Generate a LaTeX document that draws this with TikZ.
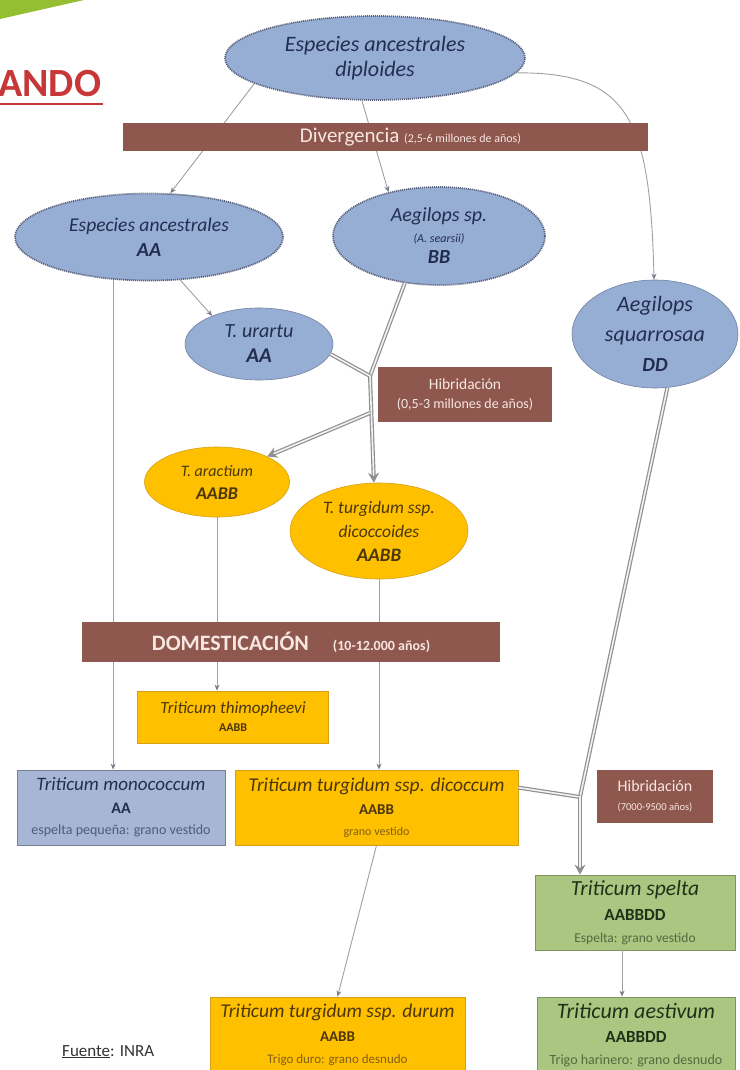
\documentclass[tikz,border=0pt]{standalone}
\usepackage{fontspec}
\setmainfont{Carlito}
\usetikzlibrary{shapes.geometric,arrows.meta}
\definecolor{ellblue}{RGB}{150,173,212}
\definecolor{navy}{RGB}{35,45,80}
\definecolor{yel}{RGB}{255,192,0}
\definecolor{yelborder}{RGB}{215,160,20}
\definecolor{brownbar}{RGB}{142,88,78}
\definecolor{bartext}{RGB}{248,230,224}
\definecolor{grbox}{RGB}{170,198,128}
\definecolor{monobox}{RGB}{168,182,214}
\definecolor{linegray}{RGB}{160,160,160}
\definecolor{arrgray}{RGB}{120,125,140}
\definecolor{redtxt}{RGB}{200,55,55}
\definecolor{leaf}{RGB}{150,190,50}
\definecolor{yeltext}{RGB}{75,55,10}
\definecolor{yelsmall}{RGB}{130,95,20}
\definecolor{grtext}{RGB}{30,50,25}
\definecolor{grsmall}{RGB}{85,105,65}
\definecolor{monosmall}{RGB}{80,90,125}
\newcommand\fs[2]{\fontsize{#1}{#2}\selectfont}
\begin{document}
\begin{tikzpicture}[x=1pt,y=-1pt,
  ell/.style={ellipse, inner sep=0pt, align=center, fill=ellblue, text=navy},
  dotb/.style={draw=navy!75, line width=1.7pt, dash pattern=on 1.1pt off 0.9pt},
  solb/.style={draw=ellblue!75!black, line width=0.6pt},
  yell/.style={ellipse, inner sep=0pt, align=center, fill=yel, draw=yelborder, line width=0.6pt, text=yeltext},
  barbox/.style={rectangle, fill=brownbar, text=bartext, inner sep=0pt, align=center},
  ybox/.style={rectangle, fill=yel, draw=yelborder, line width=0.8pt, inner sep=0pt, align=center, text=yeltext},
  gbox/.style={rectangle, fill=grbox, draw=grbox!75!black, line width=0.8pt, inner sep=0pt, align=center, text=grtext},
  mbox/.style={rectangle, fill=monobox, draw=monobox!70!black, line width=0.8pt, inner sep=0pt, align=center, text=navy},
  arr/.style={draw=linegray, line width=0.9pt, -{Stealth[length=6pt,width=5pt,color=arrgray]}},
  dbl/.style={draw=linegray!90!black, double=white!90!gray, double distance=1.6pt, line width=1.2pt},
  dblarr/.style={dbl, -{Stealth[length=10pt,width=11pt]}}
]
\useasboundingbox (0,0) rectangle (739,1070);
\fill[white] (0,0) rectangle (739,1070);
\fill[leaf] (0,0) -- (84,0) -- (0,19) -- cycle;

% title fragment
\node[anchor=base west, text=redtxt, font=\fs{40}{40}\bfseries, inner sep=0pt] (ando) at (-2,97) {ANDO};
\draw[redtxt, line width=2.5pt] (0,104) -- (103,104);

% ellipses
\node[ell, dotb, minimum width=300pt, minimum height=84pt, font=\fs{22}{25}\itshape] (top) at (375,58) {Especies ancestrales\\diploides};
\node[ell, dotb, minimum width=268pt, minimum height=87pt, font=\fs{19.5}{25}\itshape] (spA) at (149,237) {Especies ancestrales\\{\bfseries\fs{20}{25}AA}};
\node[ell, dotb, minimum width=212pt, minimum height=98pt, font=\fs{20}{21}\itshape] (aeg) at (439,236) {Aegilops sp.\\{\fs{12}{14}(A. searsii)}\\{\bfseries\fs{20}{21}BB}};
\node[ell, solb, minimum width=148pt, minimum height=72pt, font=\fs{20}{25}\itshape] (ur) at (259,344) {T. urartu\\{\bfseries\fs{21}{25}AA}};
\node[ell, solb, minimum width=166pt, minimum height=108pt, font=\fs{22}{30}\itshape] (sq) at (655,334) {Aegilops\\squarrosaa\\{\bfseries\fs{20}{30}DD}};
\node[yell, minimum width=145pt, minimum height=70pt, font=\fs{16}{23}\itshape] (ar) at (217,482) {T. aractium\\{\bfseries\fs{18}{23}AABB}};
\node[yell, minimum width=178pt, minimum height=96pt, font=\fs{17.5}{24}\itshape] (dic) at (379,531) {T. turgidum ssp.\\dicoccoides\\{\bfseries\fs{19}{24}AABB}};

% boxes
\node[barbox, minimum width=174pt, minimum height=55pt, font=\fs{15.5}{19}] (hib1) at (465,394.5) {Hibridación\\{\fs{14}{19}(0,5-3 millones de años)}};
\node[ybox, minimum width=191pt, minimum height=52pt, font=\fs{17}{18}] (thim) at (233,717) {{\itshape Triticum thimopheevi}\\{\bfseries\fs{12}{18}AABB}};
\node[mbox, minimum width=208pt, minimum height=75pt, font=\fs{19}{21}] (mono) at (121,807.5) {{\itshape Triticum monococcum}\\[2pt]{\bfseries\fs{16}{21}AA}\\{\color{monosmall}\fs{14}{21}espelta pequeña: grano vestido}};
\node[ybox, minimum width=283pt, minimum height=75pt, font=\fs{19.5}{21}] (dicm) at (376.5,807.5) {{\itshape Triticum turgidum ssp. dicoccum}\\[2pt]{\bfseries\fs{15}{21}AABB}\\{\color{yelsmall}\fs{12}{21}grano vestido}};
\node[barbox, minimum width=116pt, minimum height=53pt, font=\fs{16}{19}] (hib2) at (655,796.5) {Hibridación\\{\fs{10.5}{19}(7000-9500 años)}};
\node[gbox, minimum width=200pt, minimum height=75pt, font=\fs{21.5}{22}] (spelta) at (635,912.5) {{\itshape Triticum spelta}\\[3pt]{\bfseries\fs{17}{22}AABBDD}\\{\color{grsmall}\fs{13.5}{22}Espelta: grano vestido}};
\node[ybox, minimum width=255pt, minimum height=76pt, font=\fs{19.5}{22}] (durum) at (337.5,1035) {{\itshape Triticum turgidum ssp. durum}\\[2pt]{\bfseries\fs{15}{22}AABB}\\{\color{yelsmall}\fs{13}{22}Trigo duro: grano desnudo}};
\node[gbox, minimum width=198pt, minimum height=76pt, font=\fs{22}{22}] (aest) at (636,1035) {{\itshape Triticum aestivum}\\[2pt]{\bfseries\fs{17}{22}AABBDD}\\{\color{grsmall}\fs{14}{22}Trigo harinero: grano desnudo}};

% junctions
\coordinate (j1) at (370,376);
\coordinate (j2) at (370,413);
\coordinate (j3) at (580,797);

% thin connectors
\draw[arr] (top.192) -- (spA.64);
\draw[arr] (top.253) -- (aeg.139);
\draw[arr] (top.354) .. controls (630,72) and (650,120) .. (sq.91);
\draw[arr] (spA.306) -- (ur.149);
\draw[arr] (spA.230.7) -- (spA.230.7 |- mono.north);
\draw[arr] (ar.south) -- (ar.south |- thim.north);
\draw[arr] (dic.south) -- (dic.south |- dicm.north);
\draw[arr] (dicm.south) -- (durum.north);
\draw[arr] ([xshift=-13pt]spelta.south) -- ([xshift=-13pt]spelta.south |- aest.north);

% double connectors
\draw[dbl] (aeg.234) -- (j1);
\draw[dbl] (ur.352) -- (j1);
\draw[dblarr] (j1) -- (dic.96);
\draw[dblarr] (j2) -- (ar.27);
\draw[dbl] (sq.283) -- (j3);
\draw[dbl] ([yshift=-18pt]dicm.north east) -- (j3);
\draw[dblarr] (j3) -- (j3 |- spelta.north);

% bars drawn over lines
\node[barbox, minimum width=525pt, minimum height=28pt, font=\fs{21}{21}] (div) at (385.5,137) {\hspace*{50pt}Divergencia {\fs{12}{12}(2,5-6 millones de años)}};
\node[barbox, minimum width=418pt, minimum height=40pt, font=\fs{22}{22}\bfseries] (dom) at (291,642) {DOMESTICACIÓN\hspace{24pt}{\fs{14}{14}(10-12.000 años)}};

% source
\node[anchor=base west, inner sep=0pt, font=\fs{17}{17}, text=black!80] (src) at (62,1056) {\underline{Fuente}: INRA};
\end{tikzpicture}
\end{document}
